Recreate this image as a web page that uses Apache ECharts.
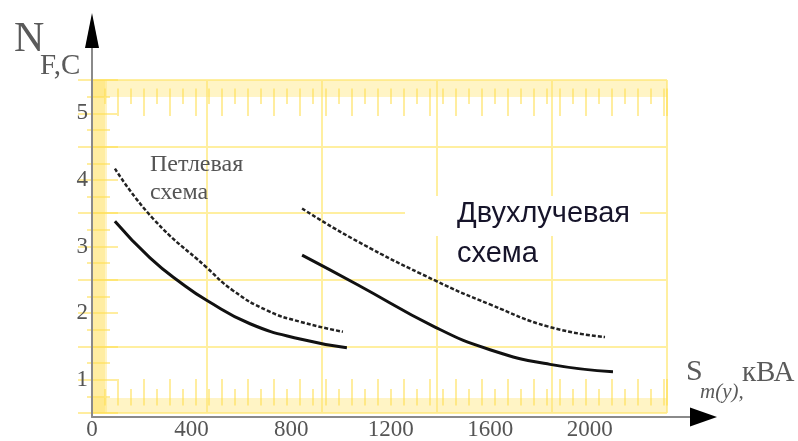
<!DOCTYPE html>
<html>
<head>
<meta charset="utf-8">
<script src="https://cdn.jsdelivr.net/npm/echarts@6/dist/echarts.min.js"></script>
<style>
  html, body { margin: 0; padding: 0; background: #fff; }
  #chart { width: 798px; height: 441px; }
</style>
</head>
<body>
<div id="chart"></div>
<script>
// tick labels
const xLabels = [0, 400, 800, 1200, 1600, 2000]
const yLabels = [1, 2, 3, 4, 5]

// петлевая схема
const loopDashX = [92, 245, 462, 566, 703, 836, 1008]
const loopDashY = [4.17, 3.42, 2.68, 2.34, 2.04, 1.87, 1.72]
const loopSolidX = [92, 233, 366, 462, 635, 836, 1024]
const loopSolidY = [3.38, 2.83, 2.43, 2.19, 1.84, 1.61, 1.48]

// двухлучевая схема
const twoDashX = [844, 1065, 1378, 1599, 1840, 2061]
const twoDashY = [3.57, 3.08, 2.49, 2.13, 1.79, 1.64]
const twoSolidX = [844, 1065, 1378, 1599, 1840, 2093]
const twoSolidY = [2.87, 2.43, 1.79, 1.45, 1.23, 1.12]

function pairs(xs, ys) {
  let out = []
  for (let i = 0; i < xs.length; i++) out.push([xs[i], ys[i]])
  return out
}

const yellowLine = '#FFEFA0'
const bandColor = 'rgba(255,228,110,0.4)'
const rulerColor = 'rgba(255,222,80,0.55)'
const labelFont = { color: '#555', fontFamily: 'Liberation Serif', fontSize: 23 }

// линейка по краю рамки: широкая полоса + длинные/короткие штрихи
function ruler(pos, min, max, interval, offset, bandW, longLen, shortLen) {
  return {
    type: 'value', gridIndex: 0, position: pos, min: min, max: max, interval: interval,
    offset: offset,
    axisLine: { show: true, lineStyle: { color: bandColor, width: bandW, cap: 'butt' } },
    axisTick: { show: true, inside: true, length: longLen, lineStyle: { color: rulerColor, width: 2 } },
    minorTick: { show: true, splitNumber: 2, length: shortLen, lineStyle: { color: rulerColor, width: 2 } },
    axisLabel: { show: false },
    splitLine: { show: false }
  }
}

let chart = echarts.init(document.getElementById('chart'))

let option = {
  animation: false,
  grid: [
    { left: 92, right: 131, top: 80, bottom: 24 },   // жёлтая сетка с данными
    { left: 92, right: 108, top: 48, bottom: 24 }    // оси со стрелками
  ],
  xAxis: [
    {
      type: 'value', gridIndex: 0, position: 'bottom', min: 0, max: 2310, interval: 462,
      axisLine: { show: false },
      axisTick: { show: false },
      axisLabel: Object.assign({ customValues: xLabels, margin: 5, formatter: (v) => String(v) }, labelFont),
      splitLine: { show: true, lineStyle: { color: yellowLine, width: 2 } }
    },
    ruler('top', 0, 575 / 13, 2, -8.5, 17, 27.5, 15.5),
    ruler('bottom', 0, 575 / 13, 2, -7.5, 15, 26.5, 16.5),
    {
      type: 'value', gridIndex: 1, position: 'bottom', min: 0, max: 1, z: 3,
      axisLine: { show: true, lineStyle: { color: '#8a8a8a', width: 2 } },
      axisTick: { show: false }, axisLabel: { show: false }, splitLine: { show: false }
    },
    {
      type: 'value', gridIndex: 1, position: 'bottom', min: 0, max: 1, z: 3,
      axisLine: {
        show: true, symbol: ['none', 'triangle'], symbolSize: [19, 27], symbolOffset: [0, 13.5],
        lineStyle: { color: '#000', opacity: 0 }
      },
      axisTick: { show: false }, axisLabel: { show: false }, splitLine: { show: false }
    }
  ],
  yAxis: [
    {
      type: 'value', gridIndex: 0, position: 'left', min: 0.5, max: 5.5, interval: 1,
      axisLine: { show: false },
      axisTick: { show: false },
      axisLabel: Object.assign({ customValues: yLabels, margin: 4 }, labelFont),
      splitLine: { show: true, lineStyle: { color: yellowLine, width: 2 } }
    },
    ruler('left', 0.5, 5.5, 0.5, -6.5, 13, 19.5, 11.5),
    ruler('right', 0.5, 5.5, 0.5, -7.5, 15, 21.5, 12.5),
    {
      type: 'value', gridIndex: 1, position: 'left', min: 0, max: 1, z: 3,
      axisLine: { show: true, lineStyle: { color: '#8a8a8a', width: 2 } },
      axisTick: { show: false }, axisLabel: { show: false }, splitLine: { show: false }
    },
    {
      type: 'value', gridIndex: 1, position: 'left', min: 0, max: 1, z: 3,
      axisLine: {
        show: true, symbol: ['none', 'triangle'], symbolSize: [14, 35], symbolOffset: [0, 17.5],
        lineStyle: { color: '#000', opacity: 0 }
      },
      axisTick: { show: false }, axisLabel: { show: false }, splitLine: { show: false }
    }
  ],
  series: [
    {
      name: 'Петлевая (пунктир)', type: 'line', smooth: true, showSymbol: false,
      data: pairs(loopDashX, loopDashY),
      lineStyle: { color: '#222', width: 2.5, type: [4, 2] }
    },
    {
      name: 'Петлевая', type: 'line', smooth: true, showSymbol: false,
      data: pairs(loopSolidX, loopSolidY),
      lineStyle: { color: '#111', width: 3 }
    },
    {
      name: 'Двухлучевая (пунктир)', type: 'line', smooth: true, showSymbol: false,
      data: pairs(twoDashX, twoDashY),
      lineStyle: { color: '#222', width: 2.5, type: [4, 2] }
    },
    {
      name: 'Двухлучевая', type: 'line', smooth: true, showSymbol: false,
      data: pairs(twoSolidX, twoSolidY),
      lineStyle: { color: '#111', width: 3 }
    }
  ],
  graphic: [
    // белая подложка под подписью
    { type: 'rect', z: 1, shape: { x: 405, y: 196, width: 235, height: 40 }, style: { fill: '#fff' } },
    { type: 'text', z: 5, x: 14, y: 19, style: { text: 'N', font: '42px "Liberation Serif"', fill: '#5a5a5a' } },
    { type: 'text', z: 5, x: 40, y: 52, style: { text: 'F,C', font: '29px "Liberation Serif"', fill: '#5a5a5a' } },
    { type: 'text', z: 5, x: 686, y: 357, style: { text: 'S', font: '30px "Liberation Serif"', fill: '#5a5a5a' } },
    { type: 'text', z: 5, x: 700, y: 382, style: { text: 'т(у),', font: 'italic 21px "Liberation Serif"', fill: '#5a5a5a' } },
    { type: 'text', z: 5, x: 742, y: 359, style: { text: 'кВА', font: '29px "Liberation Serif"', fill: '#5a5a5a' } },
    {
      type: 'text', z: 5, x: 150, y: 151,
      style: { text: 'Петлевая\nсхема', font: '24px "Liberation Serif"', lineHeight: 28, fill: '#555' }
    },
    {
      type: 'text', z: 5, x: 457, y: 194,
      style: { text: 'Двухлучевая\nсхема', font: '29px "Liberation Sans"', lineHeight: 40, fill: '#16142a' }
    }
  ]
}

chart.setOption(option)
</script>
</body>
</html>
